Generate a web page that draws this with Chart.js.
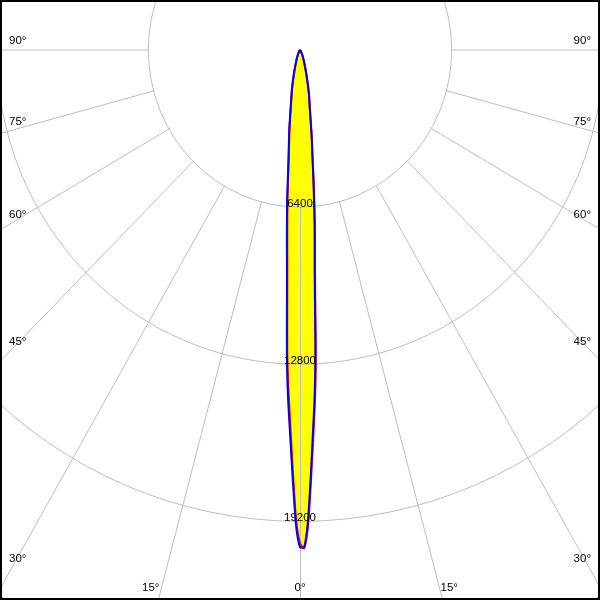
<!DOCTYPE html>
<html><head><meta charset="utf-8">
<script src="https://cdn.jsdelivr.net/npm/chart.js@4/dist/chart.umd.min.js"></script>
<style>html,body{margin:0;padding:0;background:#fff}#wrap{width:600px;height:600px}</style>
</head><body><div id="wrap"><canvas id="c" width="600" height="600"></canvas></div>
<script>
// gamma angles (degrees from nadir)
const angles = [0, 0.5, 1, 1.5, 2, 2.5, 3, 3.5, 4, 5, 6, 7, 8, 10, 12, 15, 20, 25, 30, 40, 50, 60, 70, 80, 90];
// luminous intensity (cd), C0 plane (right) and C180 plane (left)
const c0   = [20250, 20250, 19200, 17350, 15600, 14150, 12450, 10350, 8850, 7050, 5450, 4250, 3500, 2350, 1800, 1050, 480, 240, 110, 40, 12, 0, 0, 0, 0];
const c180 = [20250, 19350, 17500, 15750, 14300, 12650, 10550, 9000, 7950, 6250, 4750, 3850, 3250, 2200, 1650, 990, 450, 220, 100, 35, 10, 0, 0, 0, 0];
// C90 plane (right) and C270 plane (left)
const c90  = [20100, 20300, 19400, 17600, 15900, 14400, 12750, 10650, 9100, 7250, 5600, 4350, 3600, 2400, 1830, 1070, 490, 245, 112, 41, 12, 0, 0, 0, 0];
const c270 = [20100, 19100, 17200, 15400, 13900, 12300, 10250, 8750, 7700, 6050, 4600, 3750, 3150, 2150, 1600, 960, 440, 215, 98, 34, 10, 0, 0, 0, 0];
// grid
const ringValues = [6400, 12800, 19200, 25600];
const ringLabels = ['6400', '12800', '19200'];
const gridAngles = [-90, -75, -60, -45, -30, -15, 0, 15, 30, 45, 60, 75, 90];
const gridAngleLabels = ['90°', '75°', '60°', '45°', '30°', '15°', '0°', '15°', '30°', '45°', '60°', '75°', '90°'];

function polarPoints(leftVals, rightVals) {
  const pts = [];
  for (let i = angles.length - 1; i >= 0; i--) {
    const a = angles[i] * Math.PI / 180;
    pts.push({x: -leftVals[i] * Math.sin(a), y: -leftVals[i] * Math.cos(a)});
  }
  for (let i = 1; i < angles.length; i++) {
    const a = angles[i] * Math.PI / 180;
    pts.push({x: rightVals[i] * Math.sin(a), y: -rightVals[i] * Math.cos(a)});
  }
  return pts;
}

const FONT = '11.5px "Liberation Sans", Arial, sans-serif';
const GRID = '#bdbdbd';

const polarGrid = {
  id: 'polarGrid',
  afterDatasetDraw(chart, args) {
    if (args.index !== 0) return;
    const xs = chart.scales.x, ys = chart.scales.y, ctx = chart.ctx;
    const cx = xs.getPixelForValue(0), cy = ys.getPixelForValue(0);
    const area = chart.chartArea;
    ctx.save();
    ctx.beginPath(); ctx.rect(area.left, area.top, area.right - area.left, area.bottom - area.top); ctx.clip();
    ctx.strokeStyle = GRID; ctx.lineWidth = 1;
    ringValues.forEach(v => {
      const rx = xs.getPixelForValue(v) - cx, ry = ys.getPixelForValue(-v) - cy;
      ctx.beginPath(); ctx.ellipse(cx, cy, rx, ry, 0, 0, Math.PI * 2); ctx.stroke();
    });
    const inner = ringValues[0];
    gridAngles.forEach(g => {
      const a = g * Math.PI / 180;
      ctx.beginPath();
      ctx.moveTo(Math.round(xs.getPixelForValue(Math.sin(a) * inner)) + 0.5, ys.getPixelForValue(-Math.cos(a) * inner));
      ctx.lineTo(Math.round(xs.getPixelForValue(Math.sin(a) * 80000)) + 0.5, ys.getPixelForValue(-Math.cos(a) * 80000));
      ctx.stroke();
    });
    ctx.restore();
  },
  afterDraw(chart) {
    const xs = chart.scales.x, ys = chart.scales.y, ctx = chart.ctx;
    const cx = xs.getPixelForValue(0), cy = ys.getPixelForValue(0);
    ctx.save();
    ctx.fillStyle = '#000'; ctx.font = FONT;
    // intensity labels
    ctx.textAlign = 'center'; ctx.textBaseline = 'alphabetic';
    ringLabels.forEach((t, i) => {
      const y = ys.getPixelForValue(-ringValues[i]);
      ctx.fillText(t, cx, y);
    });
    // angle labels
    ctx.textBaseline = 'middle';
    gridAngles.forEach((g, i) => {
      const a = g * Math.PI / 180;
      const s = Math.sin(a), c = Math.cos(a);
      if (Math.abs(g) >= 30) {
        const px = g < 0 ? 18 : 582;
        const v = xs.getValueForPixel(px) / s;
        const py = ys.getPixelForValue(-c * v);
        const y = py - 9 * Math.abs(s) + 8 * c;
        ctx.textAlign = g < 0 ? 'left' : 'right';
        ctx.fillText(gridAngleLabels[i], g < 0 ? 9 : 591, y);
      } else {
        const v = ys.getValueForPixel(600) / -c;
        const px = xs.getPixelForValue(s * v) + Math.sign(g) * 7;
        ctx.textAlign = 'center';
        ctx.fillText(gridAngleLabels[i], px, 588);
      }
    });
    // frame
    ctx.strokeStyle = '#000'; ctx.lineWidth = 2;
    ctx.strokeRect(1, 1, chart.width - 2, chart.height - 2);
    ctx.restore();
  }
};

new Chart(document.getElementById('c'), {
  type: 'scatter',
  data: {
    datasets: [
      {data: polarPoints(c180, c0), showLine: true, fill: 'shape', backgroundColor: '#ffff00',
       borderWidth: 0, borderColor: 'rgba(0,0,0,0)', pointRadius: 0, tension: 0.2, order: 3},
      {data: polarPoints(c270, c90), showLine: true, fill: false, borderColor: '#ff0000',
       borderWidth: 2, pointRadius: 0, tension: 0.2, order: 2},
      {data: polarPoints(c180, c0), showLine: true, fill: false, borderColor: '#0000ff',
       borderWidth: 2, pointRadius: 0, tension: 0.2, order: 1}
    ]
  },
  options: {
    responsive: false, animation: false,
    layout: {padding: 0},
    plugins: {legend: {display: false}, tooltip: {enabled: false}},
    scales: {
      x: {type: 'linear', display: false, min: -12660, max: 12660},
      y: {type: 'linear', display: false, min: -22403, max: 2037}
    }
  },
  plugins: [polarGrid]
});
</script>
</body></html>
